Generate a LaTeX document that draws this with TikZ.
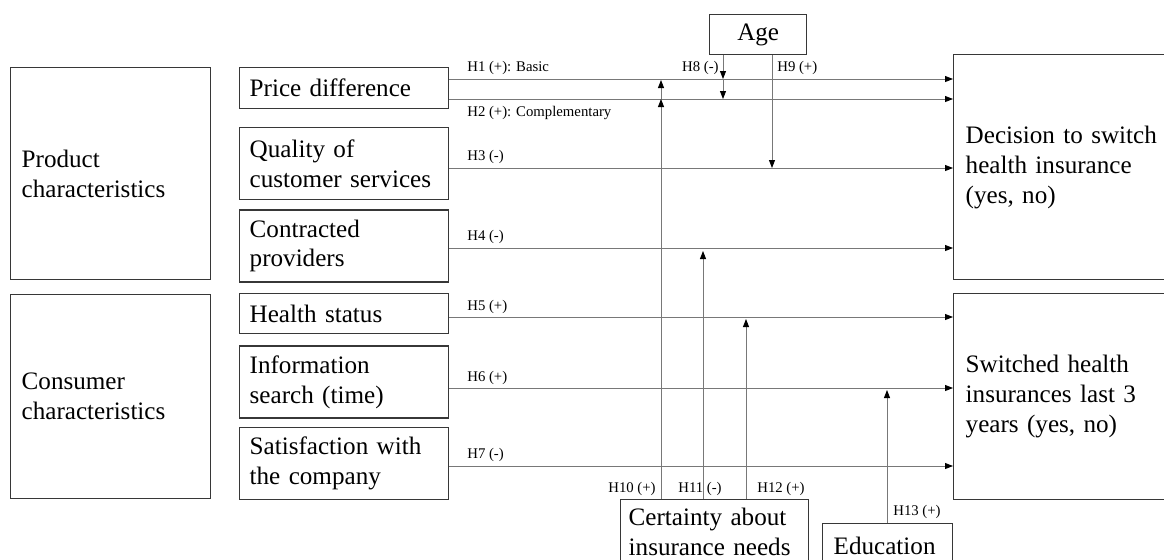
\documentclass[tikz,border=0pt]{standalone}
\usepackage{fontspec}
\setmainfont{Liberation Serif}
\usetikzlibrary{arrows.meta,positioning}
\definecolor{switchBorder}{RGB}{55, 55, 55}
\definecolor{switchLine}{RGB}{120, 120, 120}

\begin{document}
\begin{tikzpicture}[
  x=0.02cm, y=-0.02cm,
  node distance=0.2cm,
  box/.style={draw=switchBorder, line width=0.8pt, align=left, inner xsep=0.2cm,
              text width=3.78cm, minimum width=4.18cm, font=\fontsize{14.3}{17}\selectfont},
  groupbox/.style={box, minimum width=4cm, text width=3.56cm, inner xsep=0.22cm},
  outcome/.style={box, minimum width=5cm, text width=4.52cm, inner xsep=0.24cm},
  arrow/.style={draw=switchLine, line width=0.5pt,
                -{Triangle[length=1.6mm, width=1.2mm, color=black]}},
  hyp/.style={font=\fontsize{8.4}{10}\selectfont, inner sep=0pt}
]
\clip (0,0) rectangle (1164,559);

% groups on the left
\node[groupbox, minimum height=4.24cm, anchor=north west] (product) at (10,67) {Product\\characteristics};
\node[groupbox, minimum height=4.08cm, anchor=north west] (consumer) at (10,294) {Consumer\\characteristics};

% predictors
\node[box, minimum height=0.82cm, anchor=north west] (price) at (239,67) {Price difference};
\node[box, minimum height=1.44cm, below=0.35cm of price] (quality) {Quality of\\customer services};
\node[box, minimum height=1.44cm, below=0.18cm of quality] (contracted) {Contracted\\providers};
\node[box, minimum height=0.8cm, anchor=north west] (health) at (239,293) {Health status};
\node[box, minimum height=1.44cm, below=0.22cm of health] (info) {Information\\search (time)};
\node[box, minimum height=1.44cm, below=0.16cm of info] (satisfaction) {Satisfaction with\\the company};

% outcomes
\node[outcome, minimum height=4.5cm, anchor=north west] (decision) at (953,54) {Decision to switch\\health insurance\\(yes, no)};
\node[outcome, minimum height=4.12cm, anchor=north west] (switched) at (953,293) {Switched health\\insurances last 3\\years (yes, no)};

% moderators
\node[box, minimum width=1.94cm, text width=1.5cm, align=center, minimum height=0.8cm, anchor=north west] (age) at (709,14) {Age};
\node[box, minimum width=3.76cm, text width=3.44cm, inner xsep=0.16cm, minimum height=1.3cm, anchor=north west] (certainty) at (620,499) {Certainty about\\insurance needs};
\node[box, minimum width=2.6cm, text width=2.16cm, inner xsep=0.22cm, minimum height=0.88cm, anchor=north west] (education) at (822,523) {Education};

% main effects
\draw[arrow] (price.east |- 0,79) -- (decision.west |- 0,79);
\draw[arrow] (price.east |- 0,99) -- (decision.west |- 0,99);
\draw[arrow] (quality.east |- 0,168) -- (decision.west |- 0,168);
\draw[arrow] (contracted.east |- 0,248) -- (decision.west |- 0,248);
\draw[arrow] (health.east |- 0,317) -- (switched.west |- 0,317);
\draw[arrow] (info.east |- 0,388) -- (switched.west |- 0,388);
\draw[arrow] (satisfaction.east |- 0,466) -- (switched.west |- 0,466);

% moderating effects
\coordinate (h8a) at (723,79);
\coordinate (h8b) at (723,99);
\coordinate (h9) at (772,168);
\coordinate (h10a) at (661,99);
\coordinate (h10b) at (661,80);
\coordinate (h11) at (703,251);
\coordinate (h12) at (746,319);
\coordinate (h13) at (887,390);
\draw[arrow] (age.south -| h8a) -- (h8a);
\draw[arrow] (h8a) -- (h8b);
\draw[arrow] (age.south -| h9) -- (h9);
\draw[arrow] (certainty.north -| h10a) -- (h10a);
\draw[arrow] (h10a) -- (h10b);
\draw[arrow] (certainty.north -| h11) -- (h11);
\draw[arrow] (certainty.north -| h12) -- (h12);
\draw[arrow] (education.north -| h13) -- (h13);

% hypothesis labels
\node[hyp, anchor=west] (lh1) at (467,68) {H1 (+): Basic};
\node[hyp, anchor=west] (lh2) at (467,113) {H2 (+): Complementary};
\node[hyp, anchor=west] (lh3) at (467,157) {H3 (-)};
\node[hyp, anchor=west] (lh4) at (467,237) {H4 (-)};
\node[hyp, anchor=west] (lh5) at (467,307) {H5 (+)};
\node[hyp, anchor=west] (lh6) at (467,378) {H6 (+)};
\node[hyp, anchor=west] (lh7) at (467,455) {H7 (-)};
\node[hyp, anchor=east] (lh8) at (719,68) {H8 (-)};
\node[hyp, anchor=west] (lh9) at (777,68) {H9 (+)};
\node[hyp, anchor=east] (lh10) at (656,489) {H10 (+)};
\node[hyp] (lh11) at (700,489) {H11 (-)};
\node[hyp, anchor=west] (lh12) at (757,489) {H12 (+)};
\node[hyp, anchor=west] (lh13) at (893,512) {H13 (+)};
\end{tikzpicture}
\end{document}
